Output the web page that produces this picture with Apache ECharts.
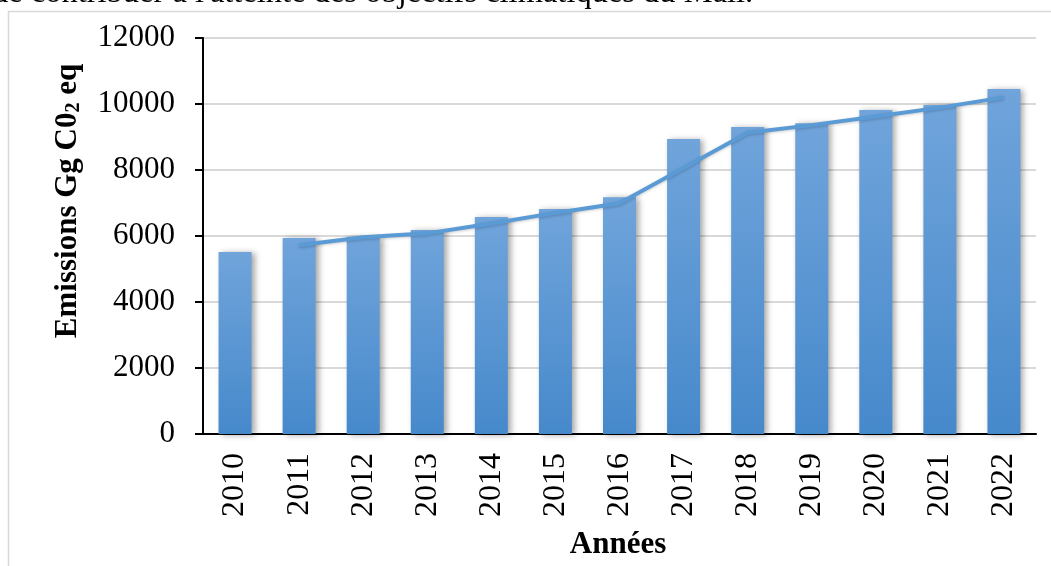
<!DOCTYPE html>
<html>
<head>
<meta charset="utf-8">
<script src="https://cdn.jsdelivr.net/npm/echarts@6/dist/echarts.min.js"></script>
<style>
  html, body { margin: 0; padding: 0; background: #fff; }
  #chart { width: 1051px; height: 566px; }
</style>
</head>
<body>
<div id="chart"></div>
<script>
// Données
const years = ['2010', '2011', '2012', '2013', '2014', '2015', '2016',
  '2017', '2018', '2019', '2020', '2021', '2022'];
const emissions = [5515, 5940, 5980, 6180, 6575, 6815, 7175,
  8940, 9300, 9415, 9815, 9970, 10455];
// courbe de tendance (moyenne mobile), pas de point en 2010
const trend = [null, 5720, 5960, 6080, 6380, 6700, 6990,
  8060, 9130, 9360, 9620, 9890, 10200];
const yTicks = [0, 2000, 4000, 6000, 8000, 10000, 12000];

const FONT = "'Liberation Serif', 'Times New Roman', serif";

const chart = echarts.init(document.getElementById('chart'));

chart.setOption({
  animation: false,
  graphic: [
    // cadre du graphique
    {
      type: 'rect',
      shape: { x: 8.5, y: 11.5, width: 1100, height: 600 },
      style: { fill: 'none', stroke: '#d9d9d9', lineWidth: 1.5 },
      z: 0
    },
    // fin de la phrase du texte, coupée en haut
    {
      type: 'text',
      x: -8,
      y: 10,
      style: {
        text: "de contribuer à l'atteinte des objectifs climatiques du Mali.",
        font: '32.5px ' + FONT,
        fill: '#000',
        textAlign: 'left',
        textVerticalAlign: 'bottom'
      }
    },
    // titre de l'axe vertical
    {
      type: 'text',
      x: 68,
      y: 201,
      rotation: Math.PI / 2,
      style: {
        text: '{t|Emissions Gg C0}{s|2}{t| eq}',
        rich: {
          t: { font: 'bold 31px ' + FONT, fill: '#000' },
          s: { font: 'bold 20px ' + FONT, fill: '#000', padding: [12, 0, 0, 0] }
        },
        textAlign: 'center',
        textVerticalAlign: 'middle'
      }
    },
    // titre de l'axe horizontal
    {
      type: 'text',
      x: 618,
      y: 545,
      style: {
        text: 'Années',
        font: 'bold 31px ' + FONT,
        fill: '#000',
        textAlign: 'center',
        textVerticalAlign: 'middle'
      }
    }
  ],
  grid: {
    left: 203,
    right: 15,
    top: 38,
    bottom: 132
  },
  xAxis: {
    type: 'category',
    data: years,
    axisLine: { lineStyle: { color: '#000', width: 2 } },
    axisTick: { show: false },
    axisLabel: {
      rotate: 90,
      margin: 19,
      color: '#000',
      fontFamily: FONT,
      fontSize: 32
    }
  },
  yAxis: {
    type: 'value',
    min: yTicks[0],
    max: yTicks[yTicks.length - 1],
    interval: 2000,
    axisLine: { show: true, lineStyle: { color: '#000', width: 2 } },
    axisTick: { show: true, length: 8, lineStyle: { color: '#000', width: 2 } },
    axisLabel: {
      margin: 28,
      color: '#000',
      fontFamily: FONT,
      fontSize: 31,
      formatter: (v) => String(v)
    },
    splitLine: { lineStyle: { color: '#d9d9d9', width: 2 } }
  },
  series: [
    {
      name: 'Emissions',
      type: 'bar',
      data: emissions,
      barWidth: 33,
      itemStyle: {
        color: new echarts.graphic.LinearGradient(0, 0, 0, 1, [
          { offset: 0, color: '#70a4db' },
          { offset: 1, color: '#4689cb' }
        ]),
        shadowColor: 'rgba(0, 0, 0, 0.35)',
        shadowBlur: 6,
        shadowOffsetX: 3,
        shadowOffsetY: 1
      }
    },
    {
      name: 'Tendance',
      type: 'line',
      data: trend,
      connectNulls: false,
      symbol: 'none',
      lineStyle: {
        color: '#5b9bd5',
        width: 4,
        shadowColor: 'rgba(0, 0, 0, 0.2)',
        shadowBlur: 3,
        shadowOffsetY: 1
      },
      z: 3
    }
  ]
});
</script>
</body>
</html>
